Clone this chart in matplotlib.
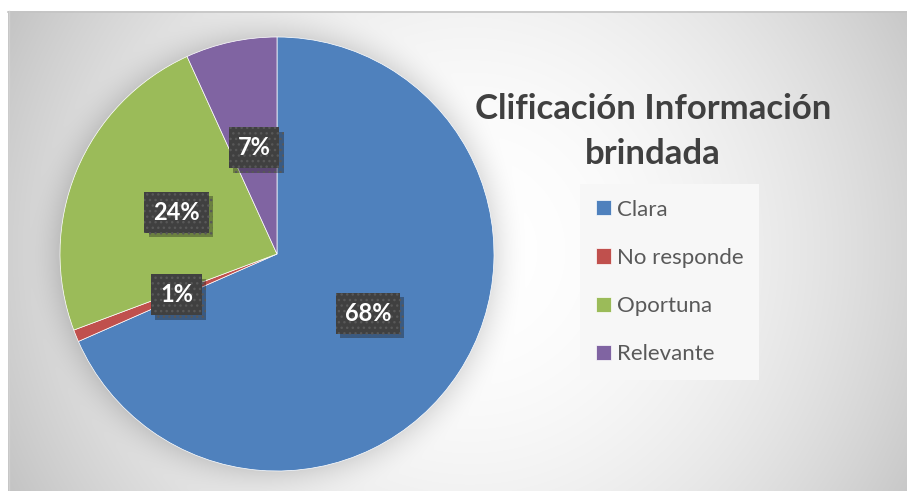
import numpy as np
import matplotlib
matplotlib.use("Agg")
import matplotlib.pyplot as plt
import matplotlib.patheffects as pe

categories = ["Clara", "No responde", "Oportuna", "Relevante"]
values = [68.4, 0.9, 23.9, 6.8]
colors = ["#4F81BD", "#C0504D", "#9BBB59", "#8064A2"]
title = "Clificación Información\nbrindada"

plt.rcParams['font.family'] = ['Lato', 'DejaVu Sans']

W, H = 907, 491
fig = plt.figure(figsize=(W / 100, H / 100), dpi=100)
fig.patch.set_facecolor('white')

# background: radial gradient in chart area
cx, cy, R = 277, 254, 217
gx, gy = 470, 251
yy, xx = np.mgrid[0:H, 0:W] + 0.5
r2 = (xx - gx) ** 2 + (yy - gy) ** 2
val = 255 - 2.2e-4 * r2
rp = np.sqrt((xx - cx) ** 2 + (yy - cy) ** 2)
halo = np.clip(1 - (rp - R) / 35.0, 0, 1) ** 2 * 28
halo[rp < R] = 0
val = np.clip(val - halo, 185, 255)
mask = (xx < 8) | (yy < 11)
val[mask] = 255
img = np.dstack([val, val, val]) / 255.0
ax_bg = fig.add_axes([0, 0, 1, 1])
ax_bg.imshow(img, extent=[0, W, H, 0], interpolation='bilinear')
ax_bg.plot([8, W], [11.5, 11.5], color='#c4c4c4', lw=1.2)
ax_bg.plot([8.5, 8.5], [11, H], color='#d0d0d0', lw=1.0)
ax_bg.set_xlim(0, W)
ax_bg.set_ylim(H, 0)
ax_bg.axis('off')

# pie
ax = fig.add_axes([(cx - R) / W, (H - cy - R) / H, 2 * R / W, 2 * R / H])
wedges, texts, autotexts = ax.pie(
    values, colors=colors, startangle=90, counterclock=False,
    autopct=lambda p: f"{p:.0f}%", pctdistance=0.5,
    wedgeprops=dict(edgecolor='white', linewidth=0.5))
for t in autotexts:
    t.set_color('white')
    t.set_fontweight('bold')
    t.set_fontsize(17)
    t.set_bbox(dict(boxstyle='square,pad=0.38', fc='#404040', ec='#585858',
                    lw=0, hatch='...'))
    t.get_bbox_patch().set_path_effects(
        [pe.SimplePatchShadow(offset=(3, -3), alpha=0.35), pe.Normal()])
ax.set_xlim(-1, 1)
ax.set_ylim(-1, 1)
ax.set_aspect('equal')
ax.axis('off')

# title
fig.text(653 / W, 1 - 93 / H, title, ha='center', va='top', fontsize=25,
         fontweight='bold', color='#404040', linespacing=1.5)

# legend
leg = fig.legend(wedges, categories, loc='upper left',
                 bbox_to_anchor=(580 / W, 1 - 184 / H), borderaxespad=0,
                 fontsize=16, frameon=True, fancybox=False,
                 handlelength=0.68, handleheight=0.68, handletextpad=0.28,
                 labelspacing=1.27, borderpad=0.7)
leg.get_frame().set_facecolor('#f7f7f7')
leg.get_frame().set_edgecolor('none')
leg.get_frame().set_alpha(1)
for t in leg.get_texts():
    t.set_color('#595959')

fig.savefig('out.png', dpi=100)
